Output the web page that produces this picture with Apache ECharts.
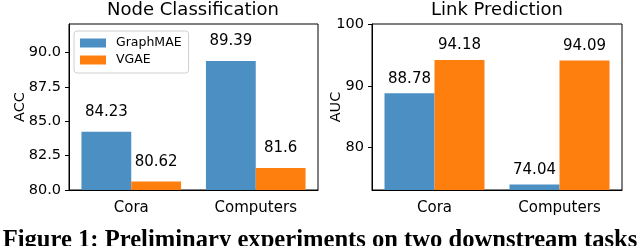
<!DOCTYPE html>
<html><head><meta charset="utf-8">
<script src="https://cdn.jsdelivr.net/npm/echarts@6/dist/echarts.min.js"></script>
<style>html,body{margin:0;padding:0;background:#fff}#c{width:640px;height:246px}</style>
</head><body><div id="c"></div>
<script>
const categories = ['Cora', 'Computers'];
const seriesNames = ['GraphMAE', 'VGAE'];
const nodeGraphMAE = [84.23, 89.39];
const nodeVGAE = [80.62, 81.6];
const linkGraphMAE = [88.78, 74.04];
const linkVGAE = [94.18, 94.09];
const nodeTicks = [80, 82.5, 85, 87.5, 90];
const linkTicks = [80, 90, 100];
const titles = ['Node Classification', 'Link Prediction'];
const yNames = ['ACC', 'AUC'];
const caption = 'Figure 1: Preliminary experiments on two downstream tasks';

const colors = ['#4b8fc3', '#ff7f0e'];
const font = '"DejaVu Sans", sans-serif';
const chart = echarts.init(document.getElementById('c'), null, {renderer: 'canvas'});

function xAxis(gi) {
  return {
    type: 'category', gridIndex: gi, data: categories,
    axisLine: {lineStyle: {color: '#000', width: 1}},
    axisTick: {alignWithLabel: true, length: 4, lineStyle: {color: '#000'}},
    axisLabel: {color: '#000', fontSize: 15, fontFamily: font, margin: 11}
  };
}
function yAxis(gi, min, max, ticks, name, gap, fmt) {
  return {
    type: 'value', gridIndex: gi, min: min, max: max,
    name: name, nameLocation: 'middle', nameGap: gap, nameMoveOverlap: false,
    nameTextStyle: {color: '#000', fontSize: 14.5, fontFamily: font},
    splitLine: {show: false},
    axisLine: {show: true, lineStyle: {color: '#000', width: 1}},
    axisTick: {show: true, length: 4, lineStyle: {color: '#000'}, customValues: ticks},
    axisLabel: {color: '#000', fontSize: 14.5, fontFamily: font, margin: 8,
      customValues: ticks, formatter: fmt}
  };
}
function bar(name, data, gi, color, dist) {
  return {
    type: 'bar', name: name, data: data, xAxisIndex: gi, yAxisIndex: gi,
    barWidth: '40%', barGap: '0%', itemStyle: {color: color},
    label: {show: true, position: 'top', distance: dist, color: '#000',
      fontSize: 15, fontFamily: font, formatter: p => String(p.value)}
  };
}

chart.setOption({
  animation: false,
  grid: [
    {left: 69, right: 322, top: 24, bottom: 56, show: true, borderColor: '#000', borderWidth: 1},
    {left: 372, right: 18, top: 24, bottom: 56, show: true, borderColor: '#000', borderWidth: 1}
  ],
  xAxis: [xAxis(0), xAxis(1)],
  yAxis: [
    yAxis(0, 80, 92.08, nodeTicks, yNames[0], 41, v => v.toFixed(1)),
    yAxis(1, 73.14, 100, linkTicks, yNames[1], 28, v => String(v))
  ],
  legend: {
    show: true, orient: 'vertical', left: 74, top: 31,
    data: seriesNames, icon: 'rect', itemWidth: 26, itemHeight: 9, itemGap: 3,
    borderColor: '#d0d0d0', borderWidth: 1, borderRadius: 3,
    padding: [5, 7, 6, 6],
    textStyle: {color: '#000', fontSize: 12.5, fontFamily: font, lineHeight: 14, padding: [0, 0, 0, 5]}
  },
  series: [
    bar(seriesNames[0], nodeGraphMAE, 0, colors[0], 12),
    bar(seriesNames[1], nodeVGAE, 0, colors[1], 12),
    bar(seriesNames[0], linkGraphMAE, 1, colors[0], 7),
    bar(seriesNames[1], linkVGAE, 1, colors[1], 7)
  ],
  graphic: [
    {type: 'text', x: 193, y: 10, style: {text: titles[0], font: '18px ' + font, fill: '#000', textAlign: 'center', textVerticalAlign: 'middle'}},
    {type: 'text', x: 497, y: 10, style: {text: titles[1], font: '18px ' + font, fill: '#000', textAlign: 'center', textVerticalAlign: 'middle'}},
    {type: 'text', x: 320, y: 241, style: {text: caption, font: 'bold 24.6px "Liberation Serif", serif', fill: '#000', textAlign: 'center', textVerticalAlign: 'middle'}}
  ]
});
</script></body></html>
